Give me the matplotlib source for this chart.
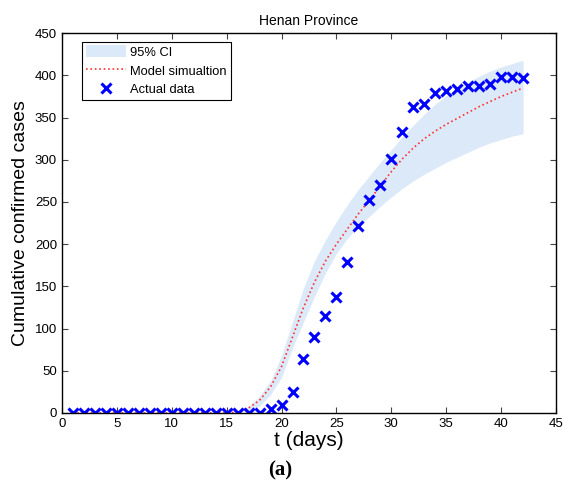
import numpy as np
import matplotlib.pyplot as plt

plt.rcParams['font.family'] = ['Liberation Sans', 'DejaVu Sans']

days = np.arange(1, 43)
actual = [0] * 18 + [5, 10, 25, 64, 90, 115, 137, 179, 221, 252, 270, 301,
                     333, 362, 366, 379, 381, 384, 387, 388, 390, 398, 398, 397]
model = [0] * 15 + [1, 6, 15, 31, 55, 90, 125, 155, 180, 200, 218, 236, 252,
                    269, 286, 301, 314, 325, 334, 342, 349, 356, 363, 369, 375, 380, 385]
upper = [0] * 15 + [1, 8, 20, 38, 68, 108, 148, 180, 205, 227, 247, 265, 281,
                    297, 312, 327, 341, 354, 366, 376, 385, 392, 399, 405, 410, 414, 418]
lower = [0] * 15 + [1, 3, 8, 22, 42, 77, 108, 138, 166, 189, 207, 221, 233,
                    245, 256, 266, 275, 283, 290, 297, 303, 309, 315, 320, 324, 328, 331]

fig = plt.figure(figsize=(5.63, 4.88), dpi=100)
ax = fig.add_axes([0.110, 0.1537, 0.8776, 0.7783])

ax.fill_between(days, lower, upper, color='#dce9f9', lw=0, label='95% CI')
ax.plot(days, model, ':', color='#ff3030', lw=1.2, label='Model simualtion')
ax.plot(days, actual, 'x', color='#0000ff', ms=7, mew=2.2, ls='none', label='Actual data')

ax.set_xlim(0, 45)
ax.set_ylim(0, 450)
ax.set_xticks(range(0, 46, 5))
ax.set_yticks(range(0, 451, 50))
ax.tick_params(direction='in', top=True, right=True, labelsize=9.5, length=4, color='#444444')
for s in ax.spines.values():
    s.set_linewidth(1.0)

ax.set_title('Henan Province', fontsize=10)
ax.set_ylabel('Cumulative confirmed cases', fontsize=14)
ax.set_xlabel('t (days)', fontsize=15, labelpad=1)
fig.text(0.497, 0.025, '(a)', fontsize=15, fontweight='bold', family='Liberation Serif', ha='center')

leg = ax.legend(loc='upper left', fontsize=9.3, fancybox=False, edgecolor='black',
                framealpha=1, bbox_to_anchor=(0.04, 0.978), borderaxespad=0,
                handlelength=3.1, handleheight=1.05, handletextpad=0.35,
                labelspacing=0.42, borderpad=0.3)
leg.get_frame().set_linewidth(0.8)

fig.savefig('out.png', dpi=100)
